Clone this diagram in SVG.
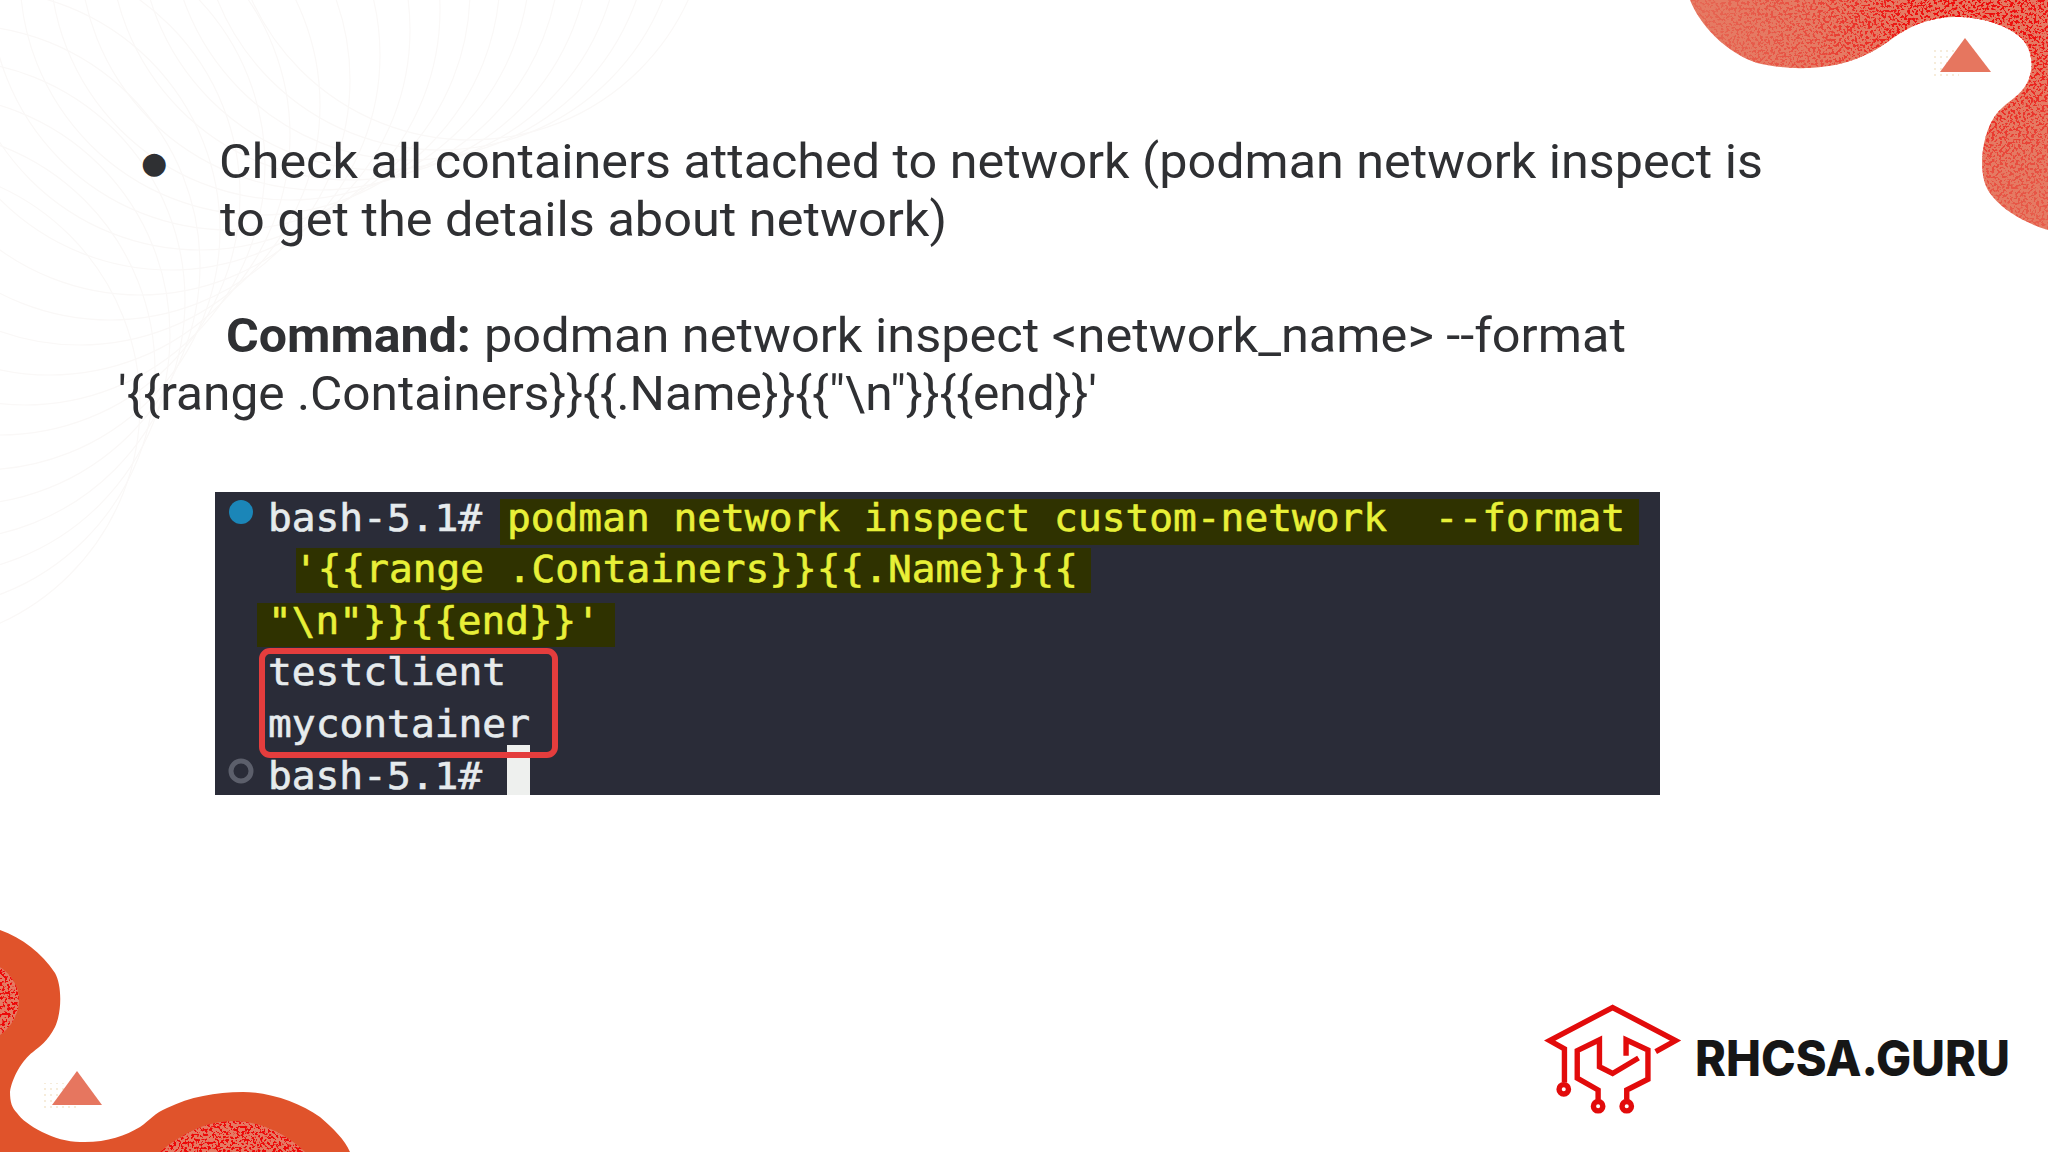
<svg xmlns="http://www.w3.org/2000/svg" width="2048" height="1152" viewBox="0 0 2048 1152">
<style>
.body{font-family:"Roboto","Noto Sans",sans-serif;font-size:49px;fill:#2f3033;white-space:pre}
.term{font-family:"DejaVu Sans Mono","Liberation Mono",monospace;font-size:37px;white-space:pre;stroke-width:.6}
.w{fill:#e6ebed;stroke:#e6ebed}.y{fill:#e8f038;stroke:#e8f038}
.hl{fill:#2f3200}
.wave{fill:none;stroke:#faf8f7;stroke-width:1.2}
.blob{fill:#e57a63}
.orange{fill:#e0532b}
.tri{fill:#e6765f}
.lg{fill:none;stroke:#e20b0b;stroke-width:16;stroke-linejoin:miter}
.pin{fill:#fff;stroke:#e20b0b;stroke-width:16}
</style>
<defs>
<filter id="speck" x="0" y="0" width="100%" height="100%" color-interpolation-filters="sRGB">
<feTurbulence type="fractalNoise" baseFrequency="0.38" numOctaves="2" seed="7"/>
<feColorMatrix type="matrix" values="0 0 0 0 0.93  0 0 0 0 0.03  0 0 0 0 0.03  16 0 0 0 -8.2"/>
</filter>
<radialGradient id="fade" gradientUnits="userSpaceOnUse" cx="1975" cy="0" r="300">
<stop offset="0" stop-color="#fff"/><stop offset="0.25" stop-color="#fff" stop-opacity=".9"/><stop offset="0.55" stop-color="#fff" stop-opacity=".4"/><stop offset="1" stop-color="#fff" stop-opacity=".12"/>
</radialGradient>
<mask id="tm" maskUnits="userSpaceOnUse" x="1660" y="0" width="388" height="240"><rect x="1660" y="0" width="388" height="240" fill="url(#fade)"/></mask>
<clipPath id="tr"><path id="trp" d="M1690 0C1700 25 1725 52 1757 63C1785 70 1820 70 1847 62C1870 55 1885 44 1893 38C1912 24 1935 16 1960 17C1985 18 2010 26 2023 40C2033 52 2034 70 2027 83C2020 96 2010 100 2003 107C1990 118 1983 138 1982 160C1982 178 1985 188 1993 197C2005 212 2028 224 2048 230L2048 0Z"/></clipPath>
<clipPath id="bl"><path d="M0 967C12 975 19 987 19 1000C19 1015 10 1028 0 1035Z"/><path d="M160 1152C180 1135 205 1121 233 1121C262 1121 288 1135 305 1152Z"/></clipPath>
<pattern id="dots" width="6" height="6" patternUnits="userSpaceOnUse"><circle cx="3" cy="3" r="1.1" fill="#f4e8d2"/></pattern>
</defs>
<rect width="2048" height="1152" fill="#fff"/>
<g id="background-waves" class="wave">
<circle cx="470" cy="-100" r="240"/><circle cx="440" cy="-90" r="240"/><circle cx="410" cy="-80" r="240"/><circle cx="380" cy="-70" r="240"/><circle cx="350" cy="-60" r="240"/><circle cx="320" cy="-50" r="240"/><circle cx="290" cy="-40" r="240"/><circle cx="260" cy="-25" r="240"/><circle cx="230" cy="-10" r="240"/><circle cx="200" cy="10" r="240"/><circle cx="170" cy="30" r="240"/><circle cx="140" cy="55" r="240"/><circle cx="110" cy="80" r="240"/><circle cx="80" cy="105" r="240"/><circle cx="50" cy="135" r="240"/><circle cx="25" cy="165" r="240"/><circle cx="0" cy="195" r="240"/><circle cx="-20" cy="230" r="240"/><circle cx="-40" cy="265" r="240"/><circle cx="-55" cy="300" r="240"/><circle cx="-70" cy="335" r="240"/><circle cx="-85" cy="370" r="240"/><circle cx="-100" cy="405" r="240"/>
</g>
<g id="corner-top-right">
<use href="#trp" class="blob"/>
<g clip-path="url(#tr)"><g mask="url(#tm)"><rect x="1660" y="0" width="388" height="240" filter="url(#speck)"/></g></g>
<rect x="1933" y="50" width="26" height="28" fill="url(#dots)"/>
<polygon class="tri" points="1965,38 1940,72 1991,72"/>
</g>
<g id="corner-bottom-left">
<path class="orange" d="M0 930C22 938 42 953 55 973C62 985 62 1012 55 1027C47 1042 40 1046 33 1052C22 1060 12 1078 10 1092C10 1102 12 1108 17 1113C25 1125 55 1142 80 1142C105 1143 125 1136 140 1127C150 1120 155 1113 167 1108C190 1097 215 1092 243 1092C270 1092 300 1103 320 1117C333 1128 345 1140 350 1152L0 1152Z"/>
<path class="blob" d="M0 967C12 975 19 987 19 1000C19 1015 10 1028 0 1035Z"/>
<path class="blob" d="M160 1152C180 1135 205 1121 233 1121C262 1121 288 1135 305 1152Z"/>
<g clip-path="url(#bl)"><rect x="0" y="960" width="320" height="192" filter="url(#speck)"/></g>
<rect x="44" y="1083" width="36" height="27" fill="url(#dots)"/>
<polygon class="tri" points="77,1071 52,1105 102,1105"/>
</g>
<g id="slide-text">
<text x="141" y="173" font-family="DejaVu Sans, sans-serif" font-size="30" fill="#2f3033">●</text>
<text class="body" x="219" y="178" textLength="1544" lengthAdjust="spacingAndGlyphs">Check all containers attached to network (podman network inspect is</text>
<text class="body" x="220" y="236" textLength="727" lengthAdjust="spacingAndGlyphs">to get the details about network)</text>
<text class="body" x="226" y="352" font-weight="700" textLength="245" lengthAdjust="spacingAndGlyphs">Command:</text>
<text class="body" x="484" y="352" textLength="1142" lengthAdjust="spacingAndGlyphs">podman network inspect &lt;network_name&gt; --format</text>
<text class="body" x="118" y="410" textLength="979" lengthAdjust="spacingAndGlyphs">'{{range .Containers}}{{.Name}}{{"\n"}}{{end}}'</text>
</g>
<g id="terminal">
<rect x="215" y="492" width="1445" height="303" fill="#2a2c38"/>
<rect class="hl" x="500" y="499" width="1139" height="46"/>
<rect class="hl" x="296" y="548" width="795" height="45"/>
<rect class="hl" x="257" y="603" width="358" height="44"/>
<circle cx="241" cy="512" r="12" fill="#1b86b8"/>
<circle cx="241" cy="771" r="10" fill="none" stroke="#5c5f6b" stroke-width="5"/>
<rect x="507" y="745" width="23" height="50" fill="#eef0ee"/>
<rect x="262" y="651" width="293" height="104" rx="8" fill="none" stroke="#e43d3d" stroke-width="6"/>
<text class="term w" x="268" y="531" textLength="214" lengthAdjust="spacingAndGlyphs">bash-5.1#</text>
<text class="term y" x="507" y="531" textLength="1118" lengthAdjust="spacingAndGlyphs">podman network inspect custom-network  --format</text>
<text class="term y" x="294" y="582" textLength="784" lengthAdjust="spacingAndGlyphs">'{{range .Containers}}{{.Name}}{{</text>
<text class="term y" x="268" y="634" textLength="332" lengthAdjust="spacingAndGlyphs">"\n"}}{{end}}'</text>
<text class="term w" x="268" y="685" textLength="238" lengthAdjust="spacingAndGlyphs">testclient</text>
<text class="term w" x="268" y="737" textLength="262" lengthAdjust="spacingAndGlyphs">mycontainer</text>
<text class="term w" x="268" y="789" textLength="214" lengthAdjust="spacingAndGlyphs">bash-5.1#</text>
</g>
<g id="logo">
<g transform="translate(1520 990) scale(.3367)">
<path class="lg" d="M403 183L462 150L275 52L88 150L132 175V275"/>
<path class="lg" d="M352 202L275 248L236 228V148L170 180V262L232 297V325"/>
<path class="lg" d="M315 195V148L380 178V265L317 297V325"/>
<circle class="pin" cx="130" cy="295" r="14"/><circle class="pin" cx="232" cy="345" r="14"/><circle class="pin" cx="317" cy="345" r="14"/>
</g>
<text x="1695" y="1076" font-family="Inter, sans-serif" font-weight="800" font-size="49" fill="#161616" textLength="315" lengthAdjust="spacingAndGlyphs">RHCSA.GURU</text>
</g>
</svg>
